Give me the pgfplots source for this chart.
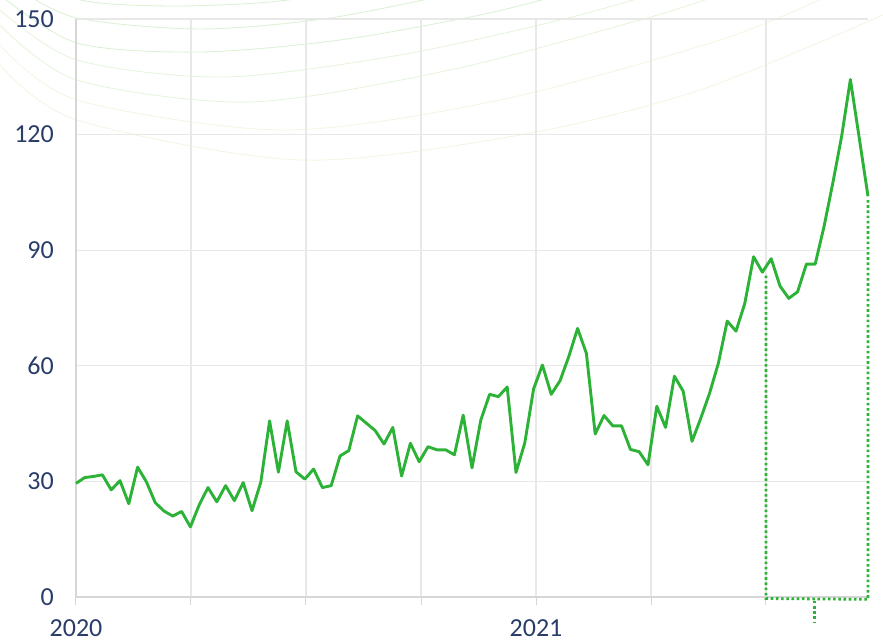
\documentclass[border=0pt]{standalone}
\usepackage{pgfplots}
\pgfplotsset{compat=1.18}
\usepackage{fontspec}
\setmainfont{Carlito}
\definecolor{lgreen}{HTML}{2CB236}
\definecolor{navy}{HTML}{2A3D6A}
\definecolor{gridc}{HTML}{E8E8E8}
\definecolor{axc}{HTML}{D6D6D6}
\definecolor{arcA}{HTML}{DCF1D6}
\definecolor{arcB}{HTML}{E6F4DD}
\definecolor{arcC}{HTML}{F0F7E4}
\pgfplotstableread{
i v
0 29.5
1 31.0
2 31.3
3 31.7
4 27.8
5 30.2
6 24.2
7 33.7
8 29.9
9 24.5
10 22.3
11 21.0
12 22.2
13 18.2
14 23.9
15 28.4
16 24.7
17 28.9
18 25.0
19 29.7
20 22.4
21 29.8
22 45.7
23 32.4
24 45.7
25 32.5
26 30.6
27 33.2
28 28.4
29 28.9
30 36.6
31 38.0
32 47.0
33 45.1
34 43.2
35 39.7
36 44.0
37 31.4
38 39.9
39 35.1
40 39.0
41 38.2
42 38.2
43 36.9
44 47.2
45 33.5
46 45.9
47 52.6
48 52.0
49 54.5
50 32.3
51 40.0
52 54.0
53 60.2
54 52.6
55 56.1
56 62.4
57 69.7
58 63.2
59 42.3
60 47.1
61 44.4
62 44.4
63 38.3
64 37.7
65 34.3
66 49.5
67 44.0
68 57.3
69 53.4
70 40.4
71 46.4
72 52.9
73 60.7
74 71.6
75 69.0
76 76.2
77 88.3
78 84.3
79 87.8
80 80.7
81 77.5
82 79.2
83 86.4
84 86.4
85 96.1
86 107.4
87 119.5
88 134.3
89 119.2
90 104.0
}\datatable
\begin{document}
\begin{tikzpicture}[x=1pt,y=1pt]
\useasboundingbox (-76,-44) rectangle (807,597);
\begin{scope}
\clip (-76,-44) rectangle (807,597);
\begin{scope}[shift={(-76,597)}, yscale=-1, line width=0.9pt]
\draw[arcA] plot[smooth] coordinates {(30,-10) (100,3) (180,6) (270,2) (360,-10)};
\draw[arcA] plot[smooth] coordinates {(20,-10) (77,18) (200,29) (330,18) (470,-10)};
\draw[arcA] plot[smooth] coordinates {(0,-5) (77,43) (200,52) (340,40) (480,15) (560,-5)};
\draw[arcB] plot[smooth] coordinates {(0,10) (77,60) (225,77) (400,55) (560,20) (650,-5)};
\draw[arcB] plot[smooth] coordinates {(0,25) (77,80) (250,102) (450,70) (640,20) (720,-5)};
\draw[arcC] plot[smooth] coordinates {(0,45) (77,100) (285,130) (500,100) (720,40) (830,-5)};
\draw[arcC] plot[smooth] coordinates {(0,65) (77,120) (300,160) (520,135) (700,90) (883,15)};
\end{scope}
\end{scope}
\begin{axis}[
  at={(0,0)}, anchor=south west,
  scale only axis, width=792pt, height=578pt,
  xmin=0, xmax=90, ymin=0, ymax=150,
  clip=false,
  axis x line*=bottom, axis y line*=left,
  axis line style={-, axc, line width=1.3pt},
  ytick={0,30,60,90,120,150},
  xtick={0,13.068,26.136,39.205,52.273,65.341,78.409},
  xticklabels={2020,,,,2021,,},
  grid=major,
  major grid style={gridc, line width=1.2pt},
  tick align=outside,
  major tick length=8pt,
  xtick style={axc, line width=1pt},
  ytick style={draw=none},
  tick label style={font=\fontsize{26}{30}\selectfont, text=navy},
  /pgf/number format/assume math mode=true,
  yticklabel style={anchor=east, inner sep=0pt, xshift=-14pt},
  xticklabel style={anchor=north, inner sep=0pt, yshift=-14pt},
]
\addplot[lgreen, line width=2.9pt, line join=round, mark=none] table[x=i, y=v] {\datatable};
\draw[lgreen, line width=2.8pt, dash pattern=on 2.6pt off 2.6pt]
  (axis cs:78.41,83.4) -- (axis cs:78.41,-0.4) -- (axis cs:90,-0.6) -- (axis cs:90,103.5);
\draw[lgreen, line width=2.8pt, dash pattern=on 2.6pt off 2.6pt]
  (axis cs:83.9,-1.0) -- (axis cs:83.9,-6.5);
\end{axis}
\end{tikzpicture}
\end{document}
